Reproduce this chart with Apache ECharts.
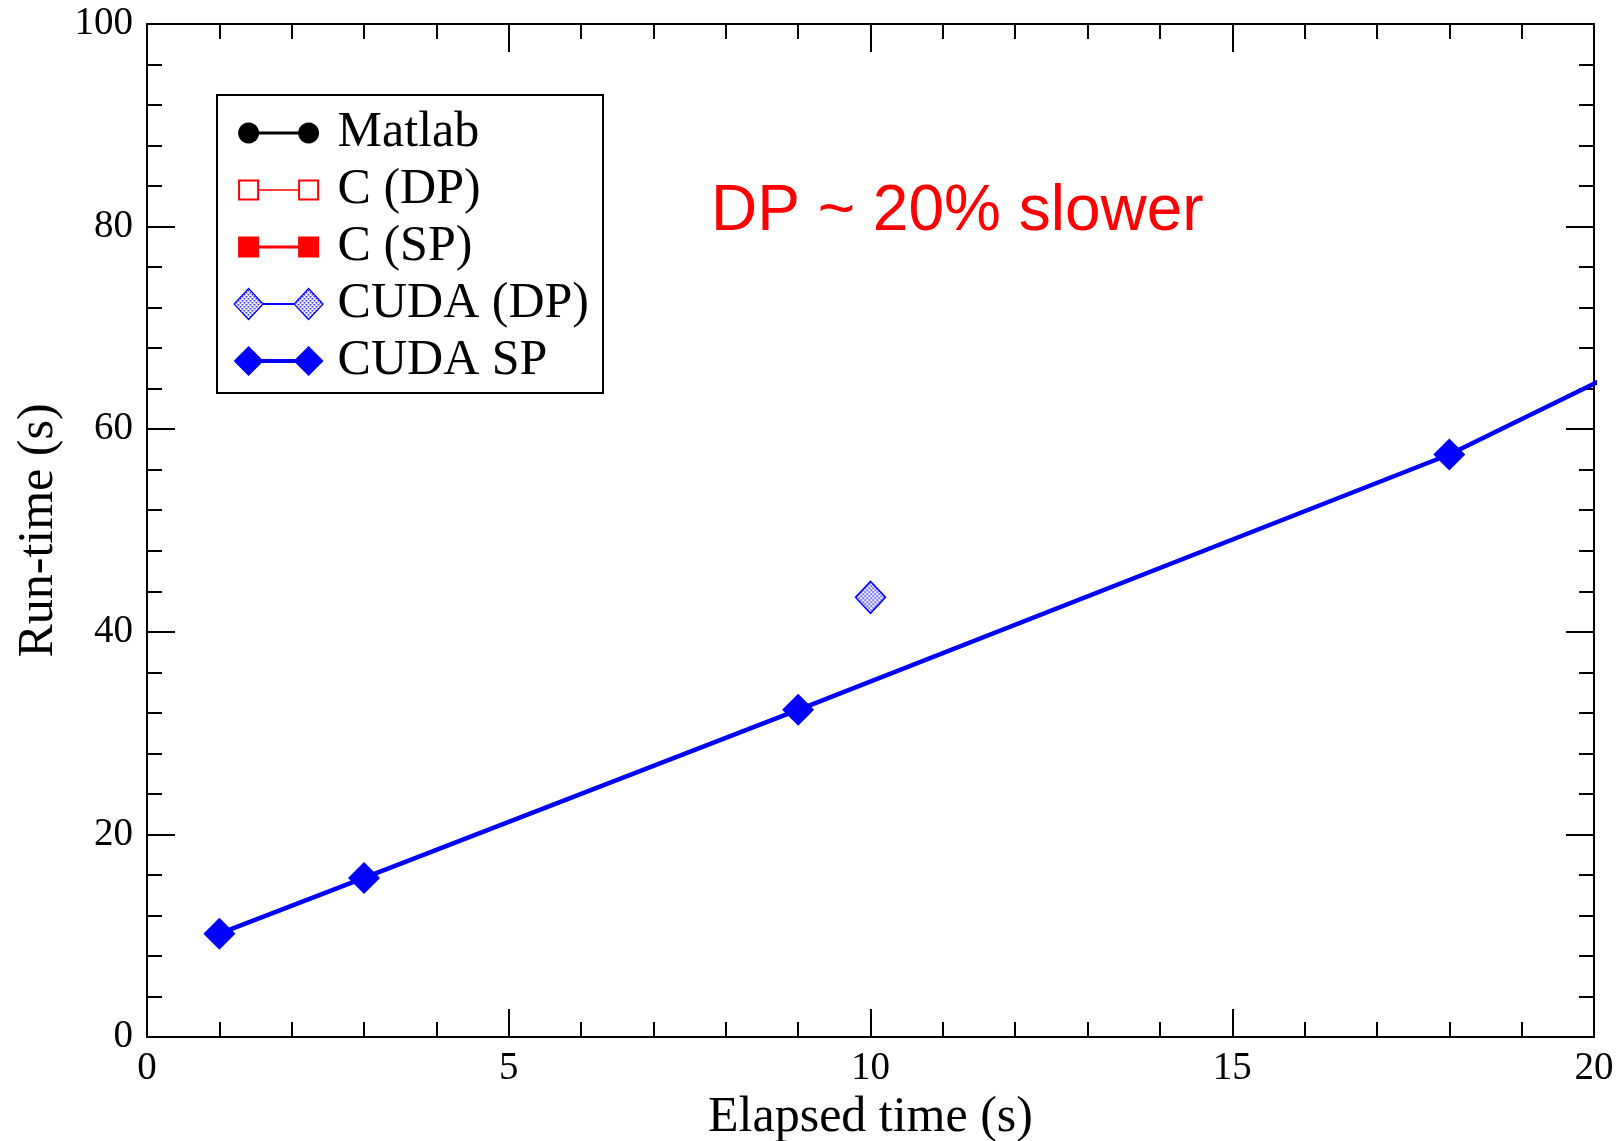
<!DOCTYPE html>
<html>
<head>
<meta charset="utf-8">
<script src="https://cdn.jsdelivr.net/npm/echarts@6/dist/echarts.min.js"></script>
<style>
html,body{margin:0;padding:0;background:#fff;}
#chart{width:1618px;height:1141px;}
</style>
</head>
<body>
<div id="chart"></div>
<script>
// ---- data ----
const seriesNames = ['Matlab', 'C (DP)', 'C (SP)', 'CUDA (DP)', 'CUDA SP'];
const matlabData = [];      // off-scale, nothing visible
const cDpData = [];         // off-scale, nothing visible
const cSpData = [];         // off-scale, nothing visible
const cudaDpX = [10];
const cudaDpY = [43.4];
const cudaSpX = [1, 3, 9, 18, 36];
const cudaSpY = [10.2, 15.7, 32.3, 57.5, 120.5];
const xTicks = [0, 5, 10, 15, 20];
const yTicks = [0, 20, 40, 60, 80, 100];
const annotationText = 'DP ~ 20% slower';
const xTitle = 'Elapsed time (s)';
const yTitle = 'Run-time (s)';

// ---- helpers ----
function pairs(xs, ys) { return xs.map((x, i) => [x, ys[i]]); }

function makePattern() {
  const c = document.createElement('canvas');
  c.width = 4; c.height = 4;
  const g = c.getContext('2d');
  g.fillStyle = '#ffffff';
  g.fillRect(0, 0, 4, 4);
  g.fillStyle = '#0000ff';
  g.fillRect(0, 0, 1.5, 1.5);
  g.fillRect(2, 2, 1.5, 1.5);
  return c;
}
const patternCanvas = makePattern();
const dotPattern = { image: patternCanvas, repeat: 'repeat' };
// symbols are drawn as a unit shape scaled by symbolSize/2, so compensate the pattern scale
const dotPatternSymbol = { image: patternCanvas, repeat: 'repeat', scaleX: 2 / 30, scaleY: 2 / 32 };

const anchors = 'M0 0 L0 0 Z M99 32 L99 32 Z ';
const circ = (cx, cy, r) => {
  let s = '';
  for (let i = 0; i < 24; i++) {
    const a = i / 24 * Math.PI * 2;
    s += (i === 0 ? 'M' : 'L') + (cx + r * Math.cos(a)).toFixed(2) + ' ' + (cy + r * Math.sin(a)).toFixed(2) + ' ';
  }
  return s + 'Z ';
};
const sq = (cx, cy, h) => `M${cx - h} ${cy - h} L${cx + h} ${cy - h} L${cx + h} ${cy + h} L${cx - h} ${cy + h} Z `;
const sqHole = (cx, cy, h) => `M${cx - h} ${cy - h} L${cx - h} ${cy + h} L${cx + h} ${cy + h} L${cx + h} ${cy - h} Z `;
const dia = (cx, cy, w, hh) => `M${cx} ${cy - hh} L${cx + w} ${cy} L${cx} ${cy + hh} L${cx - w} ${cy} Z `;
const bar = (x0, x1, cy, t) => `M${x0} ${cy - t / 2} L${x1} ${cy - t / 2} L${x1} ${cy + t / 2} L${x0} ${cy + t / 2} Z `;

const icons = {
  'Matlab': 'path://' + anchors + circ(15, 16, 10.5) + circ(75, 16, 10.5) + bar(15, 75, 16, 3),
  'C (DP)': 'path://' + anchors + sq(15, 16, 10.5) + sqHole(15, 16, 8.5) + sq(75, 16, 10.5) + sqHole(75, 16, 8.5) + bar(25.5, 64.5, 16, 1.6),
  'C (SP)': 'path://' + anchors + sq(15, 16, 10.5) + sq(75, 16, 10.5) + bar(15, 75, 16, 3),
  'CUDA (DP)': 'path://' + anchors + dia(15, 16, 14.5, 15.5) + dia(75, 16, 14.5, 15.5) + bar(29.5, 60.5, 16, 0.6),
  'CUDA SP': 'path://' + anchors + dia(15, 16, 15, 15) + dia(75, 16, 15, 15) + bar(15, 75, 16, 4)
};

const serif = 'Liberation Serif';
const axisLineStyle = { color: '#000', width: 2 };

function xAxisCfg(pos, showLabel) {
  return {
    type: 'value', position: pos, min: xTicks[0], max: xTicks[xTicks.length - 1], interval: 5,
    axisLine: { show: true, onZero: false, lineStyle: axisLineStyle },
    axisTick: { show: true, inside: true, length: 28, lineStyle: { color: '#000', width: 2 } },
    minorTick: { show: true, splitNumber: 5, length: 15, lineStyle: { color: '#000', width: 2 } },
    splitLine: { show: false },
    axisLabel: { show: showLabel, fontFamily: serif, fontSize: 39, color: '#000', margin: 12 },
    name: showLabel ? xTitle : '', nameLocation: 'middle', nameGap: 54,
    nameTextStyle: { fontFamily: serif, fontSize: 50, color: '#000' }
  };
}
function yAxisCfg(pos, showLabel) {
  return {
    type: 'value', position: pos, min: yTicks[0], max: yTicks[yTicks.length - 1], interval: 20,
    axisLine: { show: true, onZero: false, lineStyle: axisLineStyle },
    axisTick: { show: true, inside: true, length: 28, lineStyle: { color: '#000', width: 2 } },
    minorTick: { show: true, splitNumber: 5, length: 15, lineStyle: { color: '#000', width: 2 } },
    splitLine: { show: false },
    axisLabel: { show: showLabel, fontFamily: serif, fontSize: 39, color: '#000', margin: 14 },
    name: showLabel ? yTitle : '', nameLocation: 'middle', nameGap: 83, nameRotate: 90,
    nameTextStyle: { fontFamily: serif, fontSize: 50, color: '#000' }
  };
}

const chart = echarts.init(document.getElementById('chart'), null, { renderer: 'canvas' });
const option = {
  backgroundColor: '#fff',
  animation: false,
  grid: { left: 147, right: 24, top: 24, bottom: 104, containLabel: false, outerBoundsMode: 'none' },
  xAxis: [xAxisCfg('bottom', true), xAxisCfg('top', false)],
  yAxis: [yAxisCfg('left', true), yAxisCfg('right', false)],
  legend: {
    orient: 'vertical', left: 217, top: 95,
    padding: [13, 14, 7, 16],
    borderColor: '#000', borderWidth: 2, backgroundColor: '#fff',
    itemWidth: 99, itemHeight: 32, itemGap: 7,
    selectedMode: false,
    textStyle: { fontFamily: serif, fontSize: 50, color: '#000', lineHeight: 50 },
    data: [
      { name: 'Matlab', icon: icons['Matlab'], itemStyle: { color: '#000', borderWidth: 0 } },
      { name: 'C (DP)', icon: icons['C (DP)'], itemStyle: { color: '#ff0000', borderWidth: 0 } },
      { name: 'C (SP)', icon: icons['C (SP)'], itemStyle: { color: '#ff0000', borderWidth: 0 } },
      { name: 'CUDA (DP)', icon: icons['CUDA (DP)'], itemStyle: { color: dotPattern, borderColor: '#0000ff', borderWidth: 1.2 } },
      { name: 'CUDA SP', icon: icons['CUDA SP'], itemStyle: { color: '#0000ff', borderWidth: 0 } }
    ]
  },
  series: [
    { name: 'Matlab', type: 'line', data: matlabData, symbol: 'circle', symbolSize: 21,
      itemStyle: { color: '#000' }, lineStyle: { color: '#000', width: 3 } },
    { name: 'C (DP)', type: 'line', data: cDpData, symbol: 'rect', symbolSize: 21,
      itemStyle: { color: '#fff', borderColor: '#ff0000', borderWidth: 2 }, lineStyle: { color: '#ff0000', width: 1.5 } },
    { name: 'C (SP)', type: 'line', data: cSpData, symbol: 'rect', symbolSize: 21,
      itemStyle: { color: '#ff0000' }, lineStyle: { color: '#ff0000', width: 3 } },
    { name: 'CUDA (DP)', type: 'line', data: pairs(cudaDpX, cudaDpY), symbol: 'diamond', symbolSize: [30, 32],
      showAllSymbol: true, clip: true,
      itemStyle: { color: dotPatternSymbol, borderColor: '#0000ff', borderWidth: 1.5 },
      lineStyle: { color: '#0000ff', width: 1.5 }, z: 3 },
    { name: 'CUDA SP', type: 'line', data: pairs(cudaSpX, cudaSpY), symbol: 'diamond', symbolSize: 32,
      showAllSymbol: true, clip: true,
      itemStyle: { color: '#0000ff' },
      lineStyle: { color: '#0000ff', width: 4.5 }, z: 4 }
  ],
  graphic: [
    { type: 'text', left: 711, top: 180,
      style: { text: annotationText, fontFamily: 'Liberation Sans', fontSize: 64, fill: '#ff0000' } }
  ]
};
chart.setOption(option);
</script>
</body>
</html>
